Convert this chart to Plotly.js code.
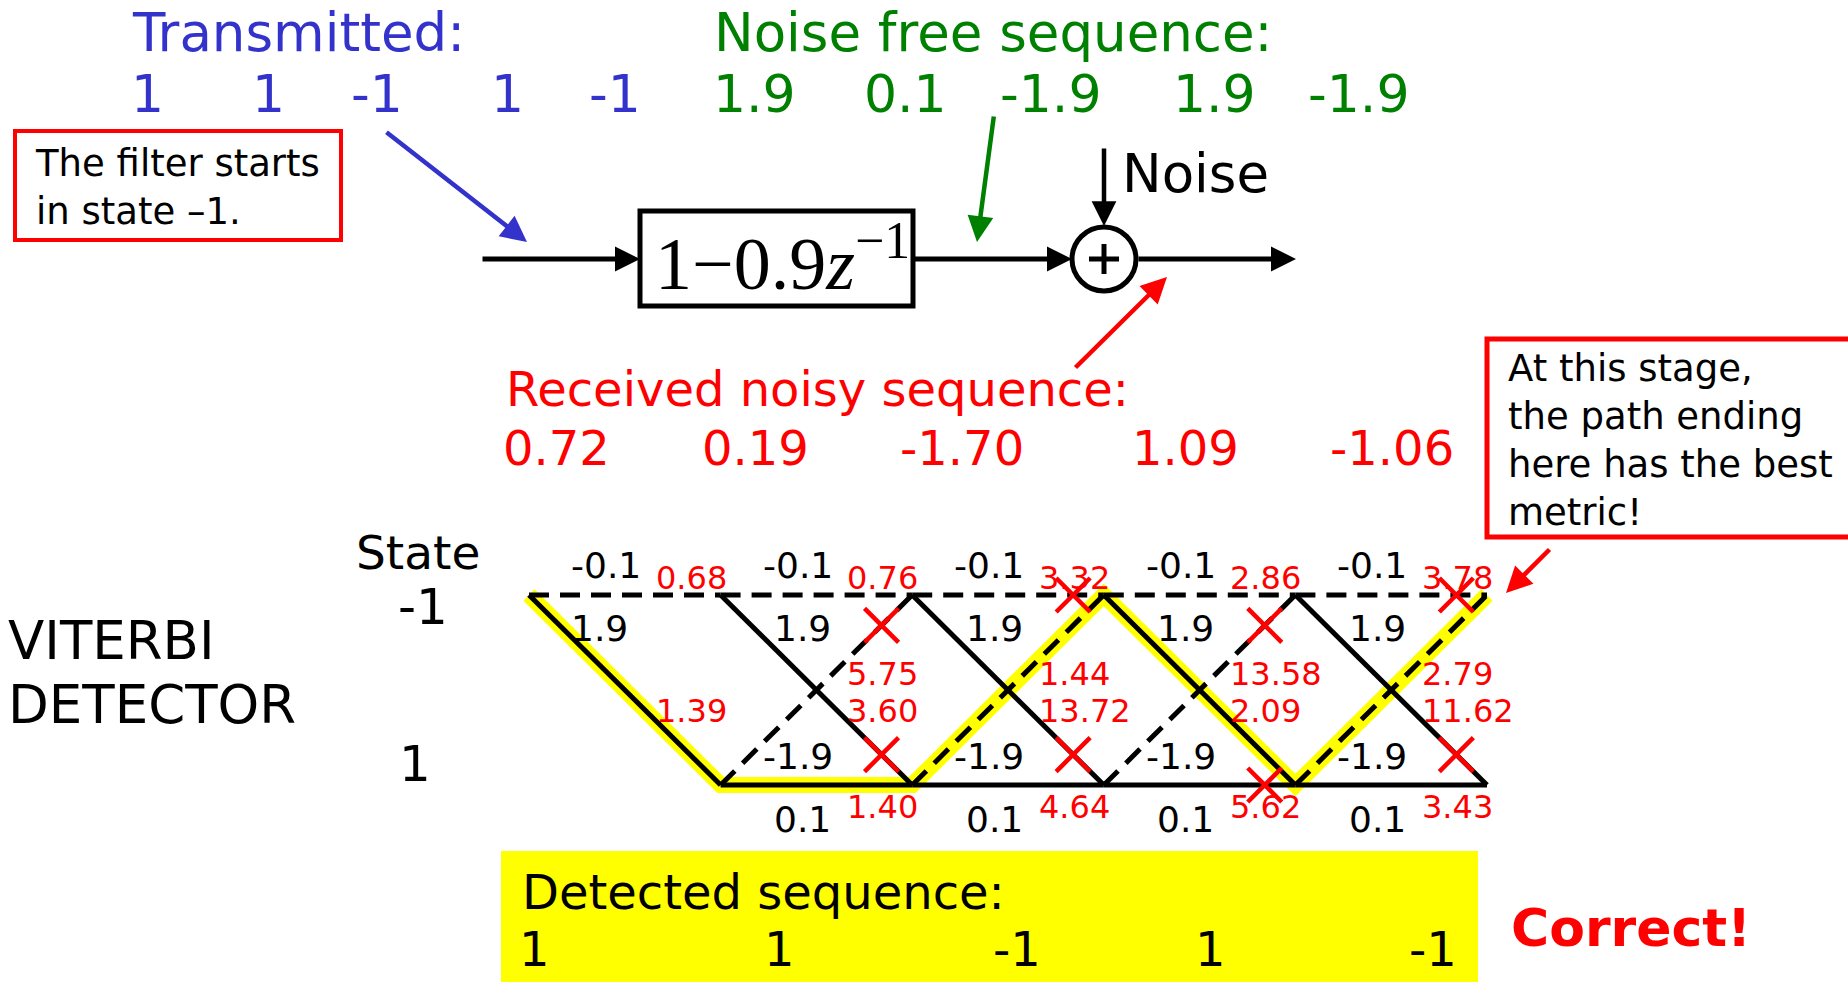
<!DOCTYPE html>
<html><head><meta charset="utf-8">
<script src="https://cdn.plot.ly/plotly-3.0.1.min.js"></script>
<style>html,body{margin:0;padding:0;background:#fff;overflow:hidden}#chart{width:1848px;height:982px}</style>
</head><body><div id="chart"></div>
<script>
// ---------------- data ----------------
const transmitted = [1, 1, -1, 1, -1];
const noiseFree = [1.9, 0.1, -1.9, 1.9, -1.9];
const received = [0.72, 0.19, -1.70, 1.09, -1.06];
const detected = [1, 1, -1, 1, -1];
const filterTaps = [1, -0.9];
const trellisStates = [-1, 1];
// path metrics at trellis stages 1..5
const metricTopFromTop = [0.68, 0.76, 3.32, 2.86, 3.78];
const metricTopFromBottom = [null, 5.75, 1.44, 13.58, 2.79];
const metricBottomFromTop = [1.39, 3.60, 13.72, 2.09, 11.62];
const metricBottomFromBottom = [null, 1.40, 4.64, 5.62, 3.43];
const survivorStates = [-1, 1, 1, -1, 1, -1];

// ---------------- layout constants (pixels) ----------------
const W = 1848, H = 982;
const FONT = 'DejaVu Sans, Verdana, sans-serif';
const BLUE = '#3333cc', GREEN = '#008000', RED = '#ff0000', YEL = '#ffff00';
const txX = [147, 268, 377, 507, 615];
const nfX = [754, 905, 1050, 1214, 1358];
const rxX = [556, 755, 962, 1185, 1392];
const detX = [534, 779, 1017, 1210, 1433];
const stage0Px = 529, stagePx = 191.6, topPx = 595, statePx = 95;

const annotations = [];
const shapes = [];
function txt(text, x, y, size, color, opts) {
  annotations.push(Object.assign({
    text: text, x: x, y: y, xref: 'x', yref: 'y', showarrow: false,
    xanchor: 'center', yanchor: 'middle',
    font: {family: FONT, size: size, color: color}
  }, opts || {}));
}
function arrow(x0, y0, x1, y1, color, width, size) {
  annotations.push({
    text: '', x: x1, y: y1, ax: x0, ay: y0, xref: 'x', yref: 'y', axref: 'x', ayref: 'y',
    showarrow: true, arrowhead: 2, arrowsize: size || 1.1, arrowwidth: width, arrowcolor: color,
    standoff: 0, startstandoff: 0
  });
}
function line(x0, y0, x1, y1, color, width) {
  shapes.push({type: 'line', xref: 'x', yref: 'y', x0: x0, y0: y0, x1: x1, y1: y1,
    line: {color: color, width: width}});
}
function rect(x0, y0, x1, y1, color, width, fill) {
  shapes.push({type: 'rect', xref: 'x', yref: 'y', x0: x0, y0: y0, x1: x1, y1: y1,
    line: {color: color, width: width}, fillcolor: fill || 'rgba(0,0,0,0)', layer: fill ? 'below' : 'above'});
}

// ---------- top section ----------
txt('Transmitted:', 130, 32, 53, BLUE, {xanchor: 'left'});
transmitted.forEach((v, i) => txt(String(v), txX[i], 94, 52, BLUE));
txt('Noise free sequence:', 712, 32, 53, GREEN, {xanchor: 'left'});
noiseFree.forEach((v, i) => txt(v.toFixed(1), nfX[i], 94, 52, GREEN));

rect(15, 131, 341, 240, RED, 4);
txt('The filter starts<br>in state \u20131.', 33, 187, 37, '#000', {xanchor: 'left', align: 'left'});

arrow(385, 131, 527, 242, BLUE, 4.5, 1.15);
arrow(481, 259, 640, 259, '#000', 5, 1.0);
rect(640, 211, 913, 306, '#000', 5);
txt('1\u22120.9<i>z</i><sup>\u22121</sup>', 782, 258, 74, '#000', {font: {family: 'Liberation Serif, Times New Roman, serif', size: 74, color: '#000'}});
arrow(913, 259, 1072, 259, '#000', 5, 1.0);
shapes.push({type: 'circle', xref: 'x', yref: 'y', x0: 1072, x1: 1136, y0: 227, y1: 291, line: {color: '#000', width: 5}});
line(1089, 259, 1119, 259, '#000', 5);
line(1104, 244, 1104, 274, '#000', 5);
arrow(1137, 259, 1296, 259, '#000', 5, 1.0);
arrow(1104, 147, 1104, 226, '#000', 4.5, 1.1);
txt('Noise', 1120, 173, 53, '#000', {xanchor: 'left'});
arrow(994, 115, 977, 242, GREEN, 4.5, 1.15);
arrow(1074, 369, 1167, 277, RED, 4.5, 1.15);

txt('Received noisy sequence:', 504, 389, 48, RED, {xanchor: 'left'});
received.forEach((v, i) => txt(v.toFixed(2), rxX[i], 448, 48, RED));

rect(1487, 339, 1870, 537, RED, 5);
txt('At this stage,<br>the path ending<br>here has the best<br>metric!', 1506, 440, 37, '#000', {xanchor: 'left', align: 'left'});
arrow(1551, 548, 1506, 593, RED, 4.5, 1.15);

// ---------- trellis labels ----------
txt('State', 418, 552, 47, '#000');
txt(String(trellisStates[0]), 423, 607, 50, '#000');
txt(String(trellisStates[1]), 415, 764, 50, '#000');
txt('VITERBI', 6, 640, 53, '#000', {xanchor: 'left'});
txt('DETECTOR', 6, 704, 53, '#000', {xanchor: 'left'});

// ---------- detected sequence ----------
rect(501, 851, 1478, 990, YEL, 0, YEL);
txt('Detected sequence:', 520, 892, 48, '#000', {xanchor: 'left'});
detected.forEach((v, i) => txt(String(v), detX[i], 949, 48, '#000'));
txt('<b>Correct!</b>', 1509, 928, 52, RED, {xanchor: 'left'});

// ---------- trellis (stage / state axes) ----------
const nStages = received.length;
const solid = {x: [], y: []}, dashed = {x: [], y: []};
function t2(text, x, y, dx, dy, size, color, xanchor) {
  annotations.push({text: text, x: x, y: y, xref: 'x2', yref: 'y2', xshift: dx, yshift: dy,
    showarrow: false, xanchor: xanchor || 'center', yanchor: 'middle',
    font: {family: FONT, size: size, color: color}});
}
for (let k = 0; k < nStages; k++) {
  const from = k === 0 ? [trellisStates[0]] : trellisStates;
  for (const s0 of from) {
    for (const s1 of trellisStates) {
      const tgt = s1 === 1 ? solid : dashed;
      tgt.x.push(k, k + 1, null); tgt.y.push(s0, s1, null);
      const out = (filterTaps[0] * s1 + filterTaps[1] * s0).toFixed(1);
      if (s0 === -1 && s1 === -1) t2(out, k, s0, 77, 30, 36, '#000');
      if (s0 === -1 && s1 === 1) t2(out, k, s0, k === 0 ? 70 : 82, -33, 36, '#000');
      if (s0 === 1 && s1 === -1) t2(out, k, s0, 77, 29, 36, '#000');
      if (s0 === 1 && s1 === 1) t2(out, k, s0, 82, -34, 36, '#000');
    }
  }
}
// path metrics and eliminated branches
const mx = [], my = [];
const f = 0.84;
for (let k = 1; k <= nStages; k++) {
  const i = k - 1;
  const tt = metricTopFromTop[i], tb = metricTopFromBottom[i];
  const bt = metricBottomFromTop[i], bb = metricBottomFromBottom[i];
  t2(tt.toFixed(2), k, -1, -67, 17, 32, RED, 'left');
  if (tb !== null) t2(tb.toFixed(2), k, -1, -67, -79, 32, RED, 'left');
  t2(bt.toFixed(2), k, 1, -67, 74, 32, RED, 'left');
  if (bb !== null) t2(bb.toFixed(2), k, 1, -67, -22, 32, RED, 'left');
  if (tb !== null) {
    if (tt > tb) { mx.push(k - 1 + f); my.push(-1); }
    else { mx.push(k - 1 + f); my.push(1 + f * (-1 - 1)); }
  }
  if (bb !== null) {
    if (bt > bb) { mx.push(k - 1 + f); my.push(-1 + f * (1 + 1)); }
    else { mx.push(k - 1 + f); my.push(1); }
  }
}

const traces = [
  {x: survivorStates.map((s, k) => k), y: survivorStates, xaxis: 'x2', yaxis: 'y2', mode: 'lines',
   line: {color: YEL, width: 16}, hoverinfo: 'skip', showlegend: false},
  {x: solid.x, y: solid.y, xaxis: 'x2', yaxis: 'y2', mode: 'lines', connectgaps: false,
   line: {color: '#000', width: 5}, hoverinfo: 'skip', showlegend: false},
  {x: dashed.x, y: dashed.y, xaxis: 'x2', yaxis: 'y2', mode: 'lines', connectgaps: false,
   line: {color: '#000', width: 5, dash: '20px,11px'}, hoverinfo: 'skip', showlegend: false},
  {x: mx, y: my, xaxis: 'x2', yaxis: 'y2', mode: 'markers',
   marker: {symbol: 'x-thin', size: 34, color: RED, line: {color: RED, width: 4.5}},
   hoverinfo: 'skip', showlegend: false}
];

const layout = {
  width: W, height: H, margin: {l: 0, r: 0, t: 0, b: 0},
  paper_bgcolor: '#fff', plot_bgcolor: '#fff', showlegend: false,
  xaxis: {range: [0, W], visible: false, fixedrange: true},
  yaxis: {range: [H, 0], visible: false, fixedrange: true},
  xaxis2: {range: [-stage0Px / stagePx, (W - stage0Px) / stagePx], overlaying: 'x', anchor: 'y2', visible: false},
  yaxis2: {range: [-1 + (H - topPx) / statePx, -1 - topPx / statePx], overlaying: 'y', anchor: 'x2', visible: false},
  shapes: shapes, annotations: annotations
};
Plotly.newPlot('chart', traces, layout, {displayModeBar: false, staticPlot: true});
</script></body></html>
